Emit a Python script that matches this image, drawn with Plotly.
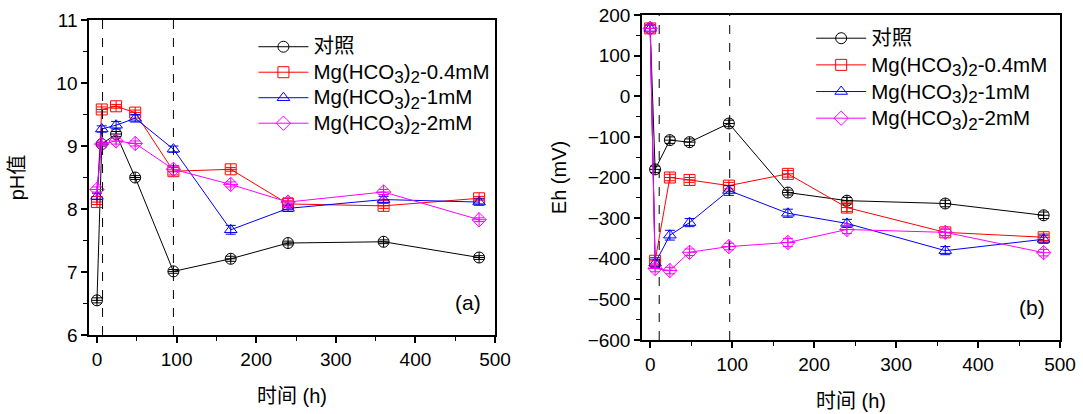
import plotly.graph_objects as go

# ---- data ----
hours = [0, 6, 24, 48, 96, 168, 240, 360, 480]
SUB3 = '<sub><span style="font-size:17px">3</span></sub>'
SUB2 = '<sub><span style="font-size:17px">2</span></sub>'
series_labels = ["对照", f"Mg(HCO{SUB3}){SUB2}-0.4mM",
                 f"Mg(HCO{SUB3}){SUB2}-1mM", f"Mg(HCO{SUB3}){SUB2}-2mM"]

ph_ctrl = [6.55, 9.03, 9.19, 8.50, 7.01, 7.21, 7.46, 7.48, 7.23]
ph_04 = [8.11, 9.58, 9.63, 9.53, 8.60, 8.63, 8.08, 8.05, 8.17]
ph_1 = [8.20, 9.27, 9.33, 9.44, 8.95, 7.67, 8.01, 8.15, 8.11]
ph_2 = [8.31, 9.03, 9.08, 9.04, 8.63, 8.39, 8.11, 8.27, 7.83]

ph_err_ctrl = [0.04, 0.03, 0.04, 0.03, 0.03, 0.04, 0.03, 0.03, 0.03]
ph_err_04 = [0.04, 0.04, 0.03, 0.04, 0.06, 0.03, 0.05, 0.04, 0.03]
ph_err_1 = [0.05, 0.05, 0.06, 0.06, 0.05, 0.07, 0.05, 0.05, 0.05]
ph_err_2 = [0.04, 0.03, 0.05, 0.04, 0.04, 0.04, 0.07, 0.04, 0.03]

eh_ctrl = [167, -180, -108, -113, -67, -237, -257, -264, -293]
eh_04 = [167, -405, -200, -206, -220, -191, -274, -335, -347]
eh_1 = [167, -411, -342, -311, -232, -288, -313, -380, -352]
eh_2 = [167, -424, -429, -384, -370, -360, -328, -335, -385]

eh_err_ctrl = [8, 8, 8, 8, 8, 6, 8, 8, 8]
eh_err_04 = [8, 8, 8, 6, 8, 8, 10, 8, 8]
eh_err_1 = [8, 10, 12, 10, 12, 10, 10, 10, 10]
eh_err_2 = [8, 8, 8, 8, 8, 10, 10, 8, 8]

dashed_a = [7, 96]
dashed_b = [11, 97]

colors = ["#000000", "#FF0000", "#0000FF", "#FF00FF"]
data_symbols = ["circle-cross-open", "square-cross-open", "triangle-up-open", "diamond-cross-open"]
legend_symbols = ["circle-open", "square-open", "triangle-up-open", "diamond-open"]

FONT = "Liberation Sans, Arial, Noto Sans CJK SC"

fig = go.Figure()

panels = [
    ("x", "y", "legend", [ph_ctrl, ph_04, ph_1, ph_2], [ph_err_ctrl, ph_err_04, ph_err_1, ph_err_2]),
    ("x2", "y2", "legend2", [eh_ctrl, eh_04, eh_1, eh_2], [eh_err_ctrl, eh_err_04, eh_err_1, eh_err_2]),
]

for xa, ya, lg, vals, errs in panels:
    for i in range(4):
        fig.add_trace(go.Scatter(
            x=hours, y=vals[i], xaxis=xa, yaxis=ya, mode="lines+markers",
            line=dict(color=colors[i], width=1),
            marker=dict(symbol=data_symbols[i], size=11, color=colors[i], line=dict(width=1, color=colors[i])),
            error_y=dict(type="data", array=errs[i], color=colors[i], thickness=1, width=5),
            showlegend=False, hoverinfo="skip",
        ))
    for i in range(4):
        fig.add_trace(go.Scatter(
            x=[None], y=[None], xaxis=xa, yaxis=ya, mode="lines+markers",
            name=f'<span style="font-size:20.5px">{series_labels[i]}</span>', legend=lg,
            line=dict(color=colors[i], width=1),
            marker=dict(symbol=legend_symbols[i], size=11, color=colors[i], line=dict(width=1, color=colors[i])),
        ))

axis_common = dict(
    showline=True, linecolor="black", linewidth=1.5, mirror=True,
    ticks="outside", ticklen=6, tickwidth=1.5, tickcolor="black",
    showgrid=False, zeroline=False, automargin=False,
    tickfont=dict(family=FONT, size=19, color="black"),
    minor=dict(ticks="outside", ticklen=4, tickwidth=1.2, tickcolor="black"),
)

fig.update_layout(
    width=1083, height=414,
    margin=dict(l=0, r=0, t=0, b=0),
    paper_bgcolor="white", plot_bgcolor="white",
    font=dict(family=FONT, size=19, color="black"),
    xaxis=dict(domain=[0.0822, 0.4571], range=[-10, 500], dtick=100, anchor="y",
               title=dict(text="时间 (h)", font=dict(size=20), standoff=20),
               minor_dtick=50, **axis_common),
    yaxis=dict(domain=[0.1908, 0.9517], range=[6, 11], dtick=1, anchor="x",
               title=dict(text="pH值", font=dict(size=20), standoff=26),
               minor_dtick=0.5, **axis_common),
    xaxis2=dict(domain=[0.5928, 0.9788], range=[-10, 500], dtick=100, anchor="y2",
                title=dict(text="时间 (h)", font=dict(size=20), standoff=20),
                minor_dtick=50, **axis_common),
    yaxis2=dict(domain=[0.1787, 0.9638], range=[-600, 200], dtick=100, anchor="x2",
                title=dict(text="Eh (mV)", font=dict(size=20), standoff=16),
                minor_dtick=50, **axis_common),
    legend=dict(x=0.234, y=0.93, xanchor="left", yanchor="top", bgcolor="rgba(0,0,0,0)",
                font=dict(family=FONT, size=17.3), tracegroupgap=0, itemwidth=50),
    legend2=dict(x=0.749, y=0.952, xanchor="left", yanchor="top", bgcolor="rgba(0,0,0,0)",
                 font=dict(family=FONT, size=18.2), tracegroupgap=0, itemwidth=50),
)

for xv in dashed_a:
    fig.add_shape(type="line", xref="x", yref="y domain", x0=xv, x1=xv, y0=0, y1=1,
                  line=dict(color="black", width=1, dash="dash"))
for xv in dashed_b:
    fig.add_shape(type="line", xref="x2", yref="y2 domain", x0=xv, x1=xv, y0=0, y1=1,
                  line=dict(color="black", width=1, dash="dash"))

fig.add_annotation(text="(a)", xref="x domain", yref="y domain", x=0.97, y=0.06,
                   xanchor="right", yanchor="bottom", showarrow=False, font=dict(size=21))
fig.add_annotation(text="(b)", xref="x2 domain", yref="y2 domain", x=0.97, y=0.06,
                   xanchor="right", yanchor="bottom", showarrow=False, font=dict(size=21))

fig.write_html("out.html", config={"displayModeBar": False},
               post_script="document.body.style.margin='0';")
